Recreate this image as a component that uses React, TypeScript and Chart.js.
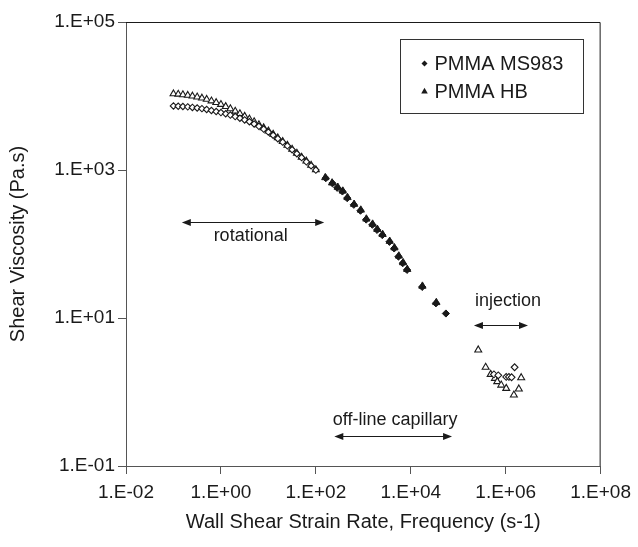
import { useEffect, useRef } from 'react';
import { Chart, registerables } from 'chart.js';

Chart.register(...registerables);

// ---- data ----
const rotRate = [0.1, 0.126, 0.158, 0.2, 0.251, 0.316, 0.398, 0.501, 0.631, 0.794, 1, 1.26, 1.58, 2, 2.51, 3.16, 3.98, 5.01, 6.31, 7.94, 10, 12.6, 15.8, 20, 25.1, 31.6, 39.8, 50.1, 63.1, 79.4, 100];
const ms983RotVisc = [7330, 7280, 7210, 7130, 7010, 6890, 6750, 6580, 6380, 6170, 5970, 5750, 5520, 5270, 5010, 4750, 4490, 4190, 3890, 3570, 3260, 2950, 2650, 2380, 2120, 1880, 1660, 1470, 1290, 1140, 998];
const hbRotVisc = [10700, 10570, 10400, 10210, 9980, 9700, 9380, 9020, 8590, 8150, 7690, 7210, 6730, 6240, 5770, 5320, 4900, 4490, 4090, 3720, 3370, 3040, 2720, 2430, 2160, 1910, 1690, 1490, 1320, 1160, 1010];

const ms983CapRate = [162, 224, 282, 363, 457, 631, 871, 1148, 1549, 1950, 2512, 3548, 4467, 5500, 6760, 8318, 17378, 33884, 54954];
const ms983CapVisc = [776, 661, 575, 513, 417, 339, 282, 214, 182, 155, 132, 107, 87.1, 67.6, 55.0, 44.7, 26.3, 15.8, 11.5];
const hbCapRate = [158, 220, 290, 370, 465, 640, 885, 1160, 1570, 1980, 2550, 3600, 4530, 5600, 6900, 8430, 17600, 34500];
const hbCapVisc = [790, 670, 585, 520, 425, 345, 288, 218, 186, 158, 135, 109, 89, 69, 56, 45.5, 27, 16.2];

const ms983InjRate = [565000, 697000, 1026000, 1170000, 1330000, 1540000];
const ms983InjVisc = [1.73, 1.68, 1.6, 1.6, 1.58, 2.16];
const hbInjRate = [264000, 378000, 482000, 593000, 664000, 805000, 1026000, 1486000, 1890000, 2120000];
const hbInjVisc = [3.7, 2.16, 1.73, 1.53, 1.38, 1.24, 1.12, 0.91, 1.1, 1.56];

const xTicks = [1e-2, 1, 1e2, 1e4, 1e6, 1e8];
const yTicks = [1e-1, 1e1, 1e3, 1e5];

const seriesNames = ['PMMA MS983', 'PMMA HB'];
const regionLabels = ['rotational', 'off-line capillary', 'injection'];
const regionLabelX = [4.23, 4680, 1.12e6];
const regionLabelY = [128, 0.42, 17];
const arrowFrom = [0.15, 245, 2.14e5];
const arrowTo = [150, 7.4e4, 2.95e6];
const arrowY = [198, 0.254, 8.0];

const FONT = "'Liberation Sans', Arial, Helvetica, sans-serif";
const INK = '#1a1a1a';

const pts = (xs: number[], ys: number[]) => xs.map((x, i) => ({ x, y: ys[i] }));

const fmtTick = (v: number) => {
  const e = Math.round(Math.log10(v));
  return '1.E' + (e < 0 ? '-' : '+') + String(Math.abs(e)).padStart(2, '0');
};

function drawArrowHead(ctx: CanvasRenderingContext2D, x: number, y: number, dir: number) {
  ctx.beginPath();
  ctx.moveTo(x, y);
  ctx.lineTo(x - dir * 9, y - 3.5);
  ctx.lineTo(x - dir * 9, y + 3.5);
  ctx.closePath();
  ctx.fill();
}

const overlay = {
  id: 'overlay',
  afterDatasetsDraw(chart: any) {
    const { ctx, chartArea, scales } = chart;
    const xs = scales.x;
    const ys = scales.y;
    ctx.save();
    // frame top & right
    ctx.strokeStyle = INK;
    ctx.lineWidth = 1;
    ctx.beginPath();
    ctx.moveTo(chartArea.left, chartArea.top + 0.5);
    ctx.lineTo(chartArea.right - 0.5, chartArea.top + 0.5);
    ctx.lineTo(chartArea.right - 0.5, chartArea.bottom);
    ctx.stroke();

    // arrows
    ctx.fillStyle = INK;
    ctx.strokeStyle = INK;
    for (let i = 0; i < arrowFrom.length; i++) {
      const x1 = xs.getPixelForValue(arrowFrom[i]);
      const x2 = xs.getPixelForValue(arrowTo[i]);
      const y = Math.round(ys.getPixelForValue(arrowY[i])) + 0.5;
      ctx.beginPath();
      ctx.moveTo(x1 + 4, y);
      ctx.lineTo(x2 - 4, y);
      ctx.stroke();
      drawArrowHead(ctx, x1, y, -1);
      drawArrowHead(ctx, x2, y, 1);
    }
    // labels
    ctx.font = `18px ${FONT}`;
    ctx.textAlign = 'center';
    ctx.textBaseline = 'middle';
    for (let i = 0; i < regionLabels.length; i++) {
      ctx.fillText(regionLabels[i], xs.getPixelForValue(regionLabelX[i]), ys.getPixelForValue(regionLabelY[i]));
    }

    // legend
    const bw = 183, bh = 74;
    const bx = Math.round(chartArea.right - 18 - bw) + 0.5;
    const by = Math.round(chartArea.top + 17) + 0.5;
    ctx.fillStyle = '#fff';
    ctx.fillRect(bx, by, bw, bh);
    ctx.strokeStyle = '#333';
    ctx.strokeRect(bx, by, bw, bh);
    ctx.fillStyle = INK;
    ctx.font = `20px ${FONT}`;
    ctx.textAlign = 'left';
    const styles = ['rectRot', 'triangle'];
    const radii = [3, 3.8];
    for (let i = 0; i < seriesNames.length; i++) {
      const cy = by + 24 + i * 28;
      const r = radii[i];
      const mx = bx + 24;
      ctx.beginPath();
      if (styles[i] === 'rectRot') {
        ctx.moveTo(mx - r, cy);
        ctx.lineTo(mx, cy - r);
        ctx.lineTo(mx + r, cy);
        ctx.lineTo(mx, cy + r);
      } else {
        ctx.moveTo(mx, cy - r);
        ctx.lineTo(mx + r * 0.866, cy + r * 0.5);
        ctx.lineTo(mx - r * 0.866, cy + r * 0.5);
      }
      ctx.closePath();
      ctx.fill();
      ctx.fillText(seriesNames[i], bx + 34, cy + 1);
    }
    ctx.restore();
  },
};

export default function App() {
  const ref = useRef<HTMLCanvasElement>(null);
  useEffect(() => {
    if (!ref.current) return;
    const open = { backgroundColor: '#fff', borderColor: INK, borderWidth: 1.1 };
    const filled = { backgroundColor: INK, borderColor: INK, borderWidth: 1 };
    const chart = new Chart(ref.current, {
      type: 'scatter',
      data: {
        datasets: [
          { label: seriesNames[0] + ' rot', data: pts(rotRate, ms983RotVisc), pointStyle: 'rectRot', pointRadius: 3.2, ...open },
          { label: seriesNames[1] + ' rot', data: pts(rotRate, hbRotVisc), pointStyle: 'triangle', pointRadius: 3.9, ...open },
          { label: seriesNames[0], data: pts(ms983CapRate, ms983CapVisc), pointStyle: 'rectRot', pointRadius: 3.6, ...filled },
          { label: seriesNames[1], data: pts(hbCapRate, hbCapVisc), pointStyle: 'triangle', pointRadius: 4.2, ...filled },
          { label: seriesNames[0] + ' inj', data: pts(ms983InjRate, ms983InjVisc), pointStyle: 'rectRot', pointRadius: 3.4, ...open },
          { label: seriesNames[1] + ' inj', data: pts(hbInjRate, hbInjVisc), pointStyle: 'triangle', pointRadius: 4, ...open },
        ] as any,
      },
      options: {
        animation: false,
        responsive: true,
        maintainAspectRatio: false,
        layout: { padding: { left: 0, top: 22, right: 36, bottom: 0 } },
        plugins: { legend: { display: false }, tooltip: { enabled: false } },
        scales: {
          x: {
            type: 'logarithmic',
            min: 1e-2,
            max: 1e8,
            afterBuildTicks: (s: any) => { s.ticks = xTicks.map((v) => ({ value: v })); },
            afterFit: (s: any) => { s.height = 81; },
            ticks: { callback: (v: any) => fmtTick(Number(v)), color: INK, font: { size: 19, family: FONT }, padding: 7, maxRotation: 0, autoSkip: false },
            grid: { display: true, drawOnChartArea: false, drawTicks: true, tickLength: 8, color: '#555' },
            border: { display: true, color: '#555', width: 1 },
            title: { display: true, text: 'Wall Shear Strain Rate, Frequency (s-1)', color: INK, font: { size: 20, family: FONT }, padding: { top: 0, bottom: 13 } },
          },
          y: {
            type: 'logarithmic',
            min: 1e-1,
            max: 1e5,
            afterBuildTicks: (s: any) => { s.ticks = yTicks.map((v) => ({ value: v })); },
            afterFit: (s: any) => { s.width = 126; },
            ticks: { callback: (v: any) => fmtTick(Number(v)), color: INK, font: { size: 19, family: FONT }, padding: 3, autoSkip: false },
            grid: { display: true, drawOnChartArea: false, drawTicks: true, tickLength: 8, color: '#555' },
            border: { display: true, color: '#555', width: 1 },
            title: { display: true, text: 'Shear Viscosity (Pa.s)', color: INK, font: { size: 20, family: FONT }, padding: { top: 6, bottom: 0 } },
          },
        },
      } as any,
      plugins: [overlay],
    });
    return () => chart.destroy();
  }, []);
  return (
    <div style={{ position: 'fixed', left: 0, top: 0, width: 638, height: 547, background: '#fff' }}>
      <canvas ref={ref} />
    </div>
  );
}
